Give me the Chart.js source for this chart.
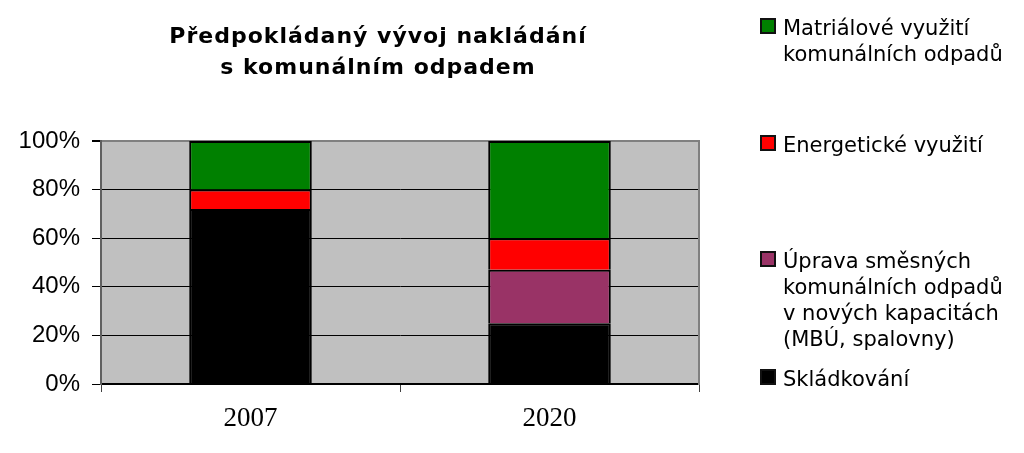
<!DOCTYPE html>
<html>
<head>
<meta charset="utf-8">
<script src="https://cdn.jsdelivr.net/npm/chart.js@4/dist/chart.umd.min.js"></script>
<style>
    html, body { margin: 0; padding: 0; background: #fff; }
    #wrap { position: relative; width: 1024px; height: 453px; overflow: hidden; }
    #chart { position: absolute; left: 0; top: 0; }
    .chart-title {
        position: absolute; left: 128px; top: 20px; width: 500px;
        text-align: center; font: bold 22px "DejaVu Sans", sans-serif;
        line-height: 31px; letter-spacing: 1px; color: #000;
    }
    .legend-item {
        position: absolute; left: 760px;
        font: 21px "DejaVu Sans", sans-serif; line-height: 26px; color: #000;
    }
    .legend-box {
        position: absolute; left: 0; top: 3px; width: 12px; height: 12px;
        border: 2px solid #111;
    }
    .legend-text { margin-left: 23px; white-space: nowrap; }
</style>
</head>
<body>
<div id="wrap">
    <canvas id="chart" width="1024" height="453"></canvas>
    <div class="chart-title">Předpokládaný vývoj nakládání<br>s komunálním odpadem</div>
    <div id="legend"></div>
</div>
<script>
// categories
const years = ['2007', '2020'];

// series values (%), stacked bottom -> top
const skladkovani = [72, 25];
const upravaSmesnych = [0, 22];
const energeticke = [8, 13];
const materialove = [20, 40];

// y axis ticks
const yTicks = [0, 20, 40, 60, 80, 100];

// legend labels (top -> bottom), lines split as in the original
const legendLines = [
    ['Matriálové využití', 'komunálních odpadů'],
    ['Energetické využití'],
    ['Úprava směsných', 'komunálních odpadů', 'v nových kapacitách', '(MBÚ, spalovny)'],
    ['Skládkování'],
];
const legendTops = [15, 132, 248, 366];

const datasets = [
    { label: 'Skládkování', data: skladkovani, backgroundColor: '#000000' },
    { label: 'Úprava směsných komunálních odpadů v nových kapacitách (MBÚ, spalovny)', data: upravaSmesnych, backgroundColor: '#993366' },
    { label: 'Energetické využití', data: energeticke, backgroundColor: '#FF0000' },
    { label: 'Matriálové využití komunálních odpadů', data: materialove, backgroundColor: '#008000' },
].map(d => Object.assign(d, {
    borderColor: '#000',
    borderWidth: 2,
    barPercentage: 0.41,
    categoryPercentage: 1,
}));

// gray plot background
const plotBg = {
    id: 'plotBg',
    beforeDraw(chart) {
        const { ctx, chartArea: a } = chart;
        ctx.save();
        ctx.fillStyle = '#C0C0C0';
        ctx.fillRect(a.left, a.top, a.right - a.left, a.bottom - a.top);
        ctx.restore();
    }
};

new Chart(document.getElementById('chart'), {
    type: 'bar',
    data: { labels: years, datasets },
    options: {
        responsive: false,
        animation: false,
        devicePixelRatio: 1,
        layout: { padding: { left: 0, top: 141, right: 325, bottom: 0 } },
        plugins: { legend: { display: false }, tooltip: { enabled: false }, title: { display: false } },
        scales: {
            x: {
                stacked: true,
                afterFit: s => { s.height = 69; },
                grid: { offset: true, drawOnChartArea: false, drawTicks: true, tickLength: 8, color: '#404040', lineWidth: 1 },
                border: { color: '#000', width: 2 },
                ticks: { color: '#000', padding: 11, font: { family: '"Liberation Serif", serif', size: 27 } },
            },
            y: {
                stacked: true,
                min: 0,
                max: 100,
                afterFit: s => { s.width = 101; },
                afterBuildTicks: s => { s.ticks = yTicks.map(v => ({ value: v })); },
                grid: {
                    color: ctx => (ctx.tick && ctx.tick.value === 100) ? '#808080' : '#000',
                    lineWidth: ctx => (ctx.tick && ctx.tick.value === 100) ? 2 : 1,
                    tickLength: 9,
                    tickColor: '#000',
                },
                border: { color: '#606060', width: 2 },
                ticks: {
                    color: '#000',
                    padding: 12,
                    font: { family: '"Liberation Sans", Arial, sans-serif', size: 24 },
                    callback: v => v + '%',
                },
            },
            yRight: {
                position: 'right',
                min: 0,
                max: 100,
                afterFit: s => { s.width = 0; },
                grid: { drawOnChartArea: false, drawTicks: false },
                border: { color: '#808080', width: 2 },
                ticks: { display: false },
            },
        },
    },
    plugins: [plotBg],
});

// HTML legend, colours taken from the datasets (top of stack first)
const legendColors = datasets.map(d => d.backgroundColor).reverse();
document.getElementById('legend').innerHTML = legendLines.map((lines, i) => `
    <div class="legend-item" style="top:${legendTops[i]}px">
        <span class="legend-box" style="background:${legendColors[i]}"></span>
        <div class="legend-text">${lines.join('<br>')}</div>
    </div>
`).join('');
</script>
</body>
</html>
